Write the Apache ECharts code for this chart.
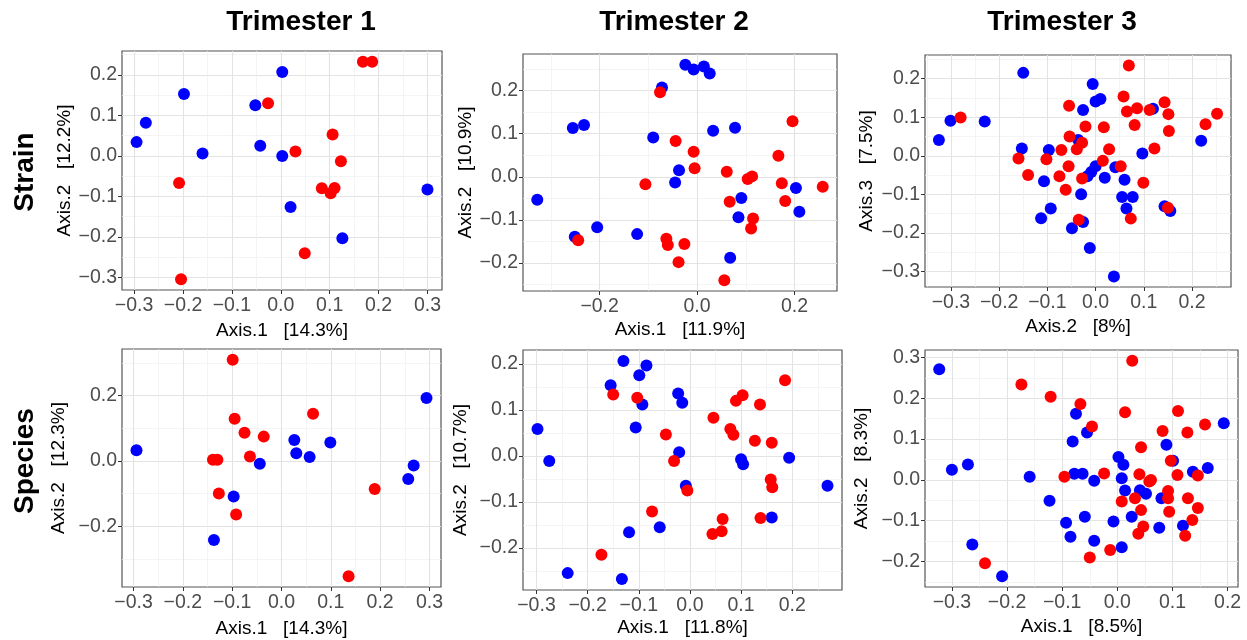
<!DOCTYPE html>
<html><head><meta charset="utf-8">
<script src="https://cdn.jsdelivr.net/npm/echarts@6/dist/echarts.min.js"></script>
<style>html,body{margin:0;padding:0;background:#fff}#c{width:1247px;height:640px}</style>
</head><body><div id="c"></div>
<script>
// ---------- text ----------
const trimesters = ['Trimester 1', 'Trimester 2', 'Trimester 3'];
const rowLabels = ['Strain', 'Species'];
const xNames = ['Axis.1   [14.3%]', 'Axis.1   [11.9%]', 'Axis.2   [8%]', 'Axis.1   [14.3%]', 'Axis.1   [11.8%]', 'Axis.1   [8.5%]'];
const yNames = ['Axis.2   [12.2%]', 'Axis.2   [10.9%]', 'Axis.3   [7.5%]', 'Axis.2   [12.3%]', 'Axis.2   [10.7%]', 'Axis.2   [8.3%]'];

// ---------- tick labels ----------
const t1StrainXTicks = [-0.3, -0.2, -0.1, 0, 0.1, 0.2, 0.3];
const t1StrainYTicks = [-0.3, -0.2, -0.1, 0, 0.1, 0.2];
const t2StrainXTicks = [-0.2, 0, 0.2];
const t2StrainYTicks = [-0.2, -0.1, 0, 0.1, 0.2];
const t3StrainXTicks = [-0.3, -0.2, -0.1, 0, 0.1, 0.2];
const t3StrainYTicks = [-0.3, -0.2, -0.1, 0, 0.1, 0.2];
const t1SpeciesXTicks = [-0.3, -0.2, -0.1, 0, 0.1, 0.2, 0.3];
const t1SpeciesYTicks = [-0.2, 0, 0.2];
const t2SpeciesXTicks = [-0.3, -0.2, -0.1, 0, 0.1, 0.2];
const t2SpeciesYTicks = [-0.2, -0.1, 0, 0.1, 0.2];
const t3SpeciesXTicks = [-0.3, -0.2, -0.1, 0, 0.1, 0.2];
const t3SpeciesYTicks = [-0.2, -0.1, 0, 0.1, 0.2, 0.3];

// ---------- data: [x, y] ----------
const t1StrainBlue = [[-0.295,0.034],[-0.276,0.082],[-0.198,0.153],[-0.160,0.006],[-0.052,0.125],[-0.042,0.025],[0.003,0.207],[0.003,0.0],[0.020,-0.126],[0.126,-0.203],[0.300,-0.083]];
const t1StrainRed = [[0.168,0.232],[0.187,0.232],[-0.026,0.130],[0.106,0.053],[0.030,0.011],[0.123,-0.013],[-0.208,-0.067],[0.084,-0.080],[0.102,-0.092],[0.110,-0.079],[0.049,-0.240],[-0.204,-0.304]];

const t2StrainBlue = [[-0.328,-0.053],[-0.255,0.113],[-0.232,0.120],[-0.251,-0.139],[-0.205,-0.117],[-0.123,-0.133],[-0.090,0.091],[-0.072,0.207],[-0.024,0.260],[-0.007,0.249],[0.014,0.256],[0.026,0.240],[-0.037,0.015],[-0.045,-0.013],[0.033,0.107],[0.078,0.114],[0.091,-0.049],[0.085,-0.094],[0.068,-0.188],[0.203,-0.026],[0.210,-0.081]];
const t2StrainRed = [[-0.076,0.196],[-0.244,-0.147],[-0.106,-0.017],[-0.044,0.083],[-0.007,0.058],[-0.005,0.020],[-0.063,-0.144],[-0.060,-0.158],[-0.026,-0.156],[-0.038,-0.198],[0.056,-0.240],[0.061,0.012],[0.067,-0.058],[0.104,-0.005],[0.113,0.001],[0.115,-0.097],[0.111,-0.120],[0.167,0.049],[0.174,-0.015],[0.181,-0.056],[0.196,0.129],[0.258,-0.023]];

const t3StrainBlue = [[-0.325,0.041],[-0.301,0.091],[-0.230,0.089],[-0.150,0.215],[-0.153,0.019],[-0.097,0.015],[-0.107,-0.066],[-0.113,-0.162],[-0.093,-0.137],[-0.049,-0.188],[-0.036,0.041],[-0.026,0.119],[-0.006,0.186],[0.0,0.141],[0.010,0.147],[-0.030,-0.100],[-0.026,-0.172],[-0.012,-0.239],[0.038,-0.313],[-0.009,-0.042],[0.0,-0.027],[-0.017,-0.053],[0.019,-0.057],[0.041,-0.030],[0.060,-0.062],[0.055,-0.107],[0.077,-0.107],[0.064,-0.137],[0.097,0.006],[0.119,0.122],[0.143,-0.131],[0.155,-0.143],[0.219,0.039]];
const t3StrainRed = [[-0.280,0.099],[0.069,0.234],[-0.055,0.130],[0.058,0.154],[0.065,0.115],[0.086,0.123],[0.112,0.119],[0.143,0.139],[0.151,0.108],[0.152,0.064],[0.081,0.080],[-0.021,0.076],[0.017,0.074],[0.228,0.082],[0.252,0.109],[-0.054,0.050],[-0.028,0.034],[-0.039,0.017],[-0.071,0.015],[-0.102,-0.009],[-0.160,-0.007],[-0.140,-0.050],[-0.056,-0.027],[-0.075,-0.053],[-0.062,-0.088],[-0.028,-0.059],[0.015,-0.013],[0.028,0.017],[0.052,-0.027],[0.122,0.019],[0.099,-0.070],[0.073,-0.163],[-0.035,-0.166],[0.150,-0.135]];

const t1SpeciesBlue = [[-0.294,0.032],[-0.137,-0.242],[-0.097,-0.109],[-0.044,-0.009],[0.026,0.064],[0.030,0.023],[0.057,0.012],[0.099,0.056],[0.257,-0.056],[0.268,-0.014],[0.294,0.192]];
const t1SpeciesRed = [[-0.099,0.309],[-0.095,0.129],[-0.075,0.086],[-0.036,0.074],[-0.064,0.013],[-0.139,0.003],[-0.130,0.003],[-0.127,-0.100],[-0.092,-0.164],[0.064,0.144],[0.189,-0.086],[0.136,-0.353]];

const t2SpeciesBlue = [[-0.298,0.059],[-0.275,-0.011],[-0.239,-0.255],[-0.155,0.154],[-0.130,0.207],[-0.133,-0.268],[-0.119,-0.166],[-0.106,0.062],[-0.099,0.176],[-0.093,0.112],[-0.085,0.197],[-0.059,-0.155],[-0.023,0.136],[-0.015,0.116],[-0.021,0.008],[-0.008,-0.065],[0.100,-0.007],[0.104,-0.018],[0.160,-0.134],[0.194,-0.004],[0.269,-0.065]];
const t2SpeciesRed = [[-0.150,0.134],[-0.103,0.127],[-0.047,0.047],[-0.031,-0.011],[-0.005,-0.075],[-0.074,-0.121],[-0.173,-0.215],[0.046,0.083],[0.079,0.059],[0.085,0.046],[0.090,0.120],[0.103,0.132],[0.137,0.112],[0.127,0.033],[0.160,0.029],[0.158,-0.051],[0.161,-0.068],[0.186,0.165],[0.064,-0.137],[0.044,-0.170],[0.062,-0.164],[0.138,-0.135]];

const t3SpeciesBlue = [[-0.323,0.271],[-0.300,0.025],[-0.271,0.038],[-0.263,-0.158],[-0.209,-0.236],[-0.159,0.008],[-0.123,-0.051],[-0.093,-0.105],[-0.085,-0.139],[-0.081,0.094],[-0.075,0.162],[-0.078,0.015],[-0.063,0.015],[-0.055,0.116],[-0.059,-0.090],[-0.042,-0.002],[-0.042,-0.149],[-0.007,-0.102],[0.002,0.056],[0.011,0.037],[0.008,0.004],[0.014,-0.026],[0.008,-0.165],[0.026,-0.090],[0.041,-0.025],[0.052,-0.034],[0.080,-0.045],[0.076,-0.117],[0.089,0.086],[0.101,0.047],[0.119,-0.112],[0.137,0.020],[0.164,0.029],[0.193,0.139]];
const t3SpeciesRed = [[0.027,0.292],[-0.174,0.234],[-0.121,0.204],[-0.067,0.186],[-0.046,0.131],[0.014,0.166],[-0.240,-0.204],[-0.096,0.008],[-0.024,0.016],[-0.050,-0.190],[-0.013,-0.172],[0.008,-0.053],[0.032,-0.045],[0.040,0.014],[0.043,0.080],[0.043,-0.074],[0.047,-0.114],[0.038,-0.132],[0.058,-0.004],[0.061,0.0],[0.082,0.120],[0.097,0.047],[0.092,-0.027],[0.092,-0.045],[0.094,-0.078],[0.109,0.012],[0.110,0.169],[0.127,0.116],[0.128,-0.045],[0.146,0.011],[0.146,-0.069],[0.136,-0.098],[0.123,-0.137],[0.159,0.136]];

// ---------- panels ----------
const panels = [
  {blue: t1StrainBlue, red: t1StrainRed, xt: t1StrainXTicks, yt: t1StrainYTicks},
  {blue: t2StrainBlue, red: t2StrainRed, xt: t2StrainXTicks, yt: t2StrainYTicks},
  {blue: t3StrainBlue, red: t3StrainRed, xt: t3StrainXTicks, yt: t3StrainYTicks},
  {blue: t1SpeciesBlue, red: t1SpeciesRed, xt: t1SpeciesXTicks, yt: t1SpeciesYTicks},
  {blue: t2SpeciesBlue, red: t2SpeciesRed, xt: t2SpeciesXTicks, yt: t2SpeciesYTicks},
  {blue: t3SpeciesBlue, red: t3SpeciesRed, xt: t3SpeciesXTicks, yt: t3SpeciesYTicks}
];
const boxes = [
  {left: 122, top: 51, width: 320, height: 239},
  {left: 523, top: 54, width: 314, height: 237},
  {left: 925, top: 55, width: 306, height: 232},
  {left: 122, top: 349, width: 319, height: 238},
  {left: 523, top: 350, width: 319, height: 240},
  {left: 925, top: 350, width: 313, height: 237}
];
const xGaps = [31, 29, 30, 32, 28, 30];
const yGaps = [48, 48, 49, 54, 53, 54];

const FONT = 'Liberation Sans, Arial, Helvetica, sans-serif';
const fmt = v => (v < -1e-9 ? '\u2212' : '') + Math.abs(v).toFixed(1);

function expand(vals) { // ggplot default 5% expansion
  const mn = Math.min(...vals), mx = Math.max(...vals), r = mx - mn;
  return [mn - 0.05 * r, mx + 0.05 * r];
}

function axisCfg(i, dim, ticks, name, range, gap) {
  const step = +(ticks[1] - ticks[0]).toFixed(4);
  return {
    type: 'value', gridIndex: i, min: range[0], max: range[1],
    minInterval: step, maxInterval: step,
    name: name, nameLocation: 'middle', nameGap: gap,
    nameTextStyle: {color: '#000', fontSize: 19, fontFamily: FONT},
    axisLine: {show: false, onZero: false},
    axisTick: {show: true, inside: false, length: 4, customValues: ticks, lineStyle: {color: '#333', width: 1}},
    axisLabel: {customValues: ticks, formatter: fmt, color: '#4D4D4D', fontSize: 19.5, fontFamily: FONT, margin: dim === 'x' ? 6 : 5},
    splitLine: {show: true, lineStyle: {color: '#E3E3E3', width: 1.1}},
    minorTick: {show: false, splitNumber: 2},
    minorSplitLine: {show: true, lineStyle: {color: '#EFEFEF', width: 0.7}}
  };
}

const grid = [], xAxis = [], yAxis = [], series = [];
panels.forEach((p, i) => {
  const all = p.blue.concat(p.red);
  const xr = expand(all.map(d => d[0]));
  const yr = expand(all.map(d => d[1]));
  grid.push(Object.assign({show: true, borderColor: '#555', borderWidth: 1.2, backgroundColor: 'transparent', containLabel: false}, boxes[i]));
  xAxis.push(axisCfg(i, 'x', p.xt, xNames[i], xr, xGaps[i]));
  yAxis.push(axisCfg(i, 'y', p.yt, yNames[i], yr, yGaps[i]));
  series.push({type: 'scatter', xAxisIndex: i, yAxisIndex: i, data: p.blue, symbolSize: 12, itemStyle: {color: '#0000FF', opacity: 1}, z: 2});
  series.push({type: 'scatter', xAxisIndex: i, yAxisIndex: i, data: p.red, symbolSize: 12, itemStyle: {color: '#FF0000', opacity: 1}, z: 2});
});

const titleX = [301, 674, 1062];
const graphic = trimesters.map((t, k) => ({
  type: 'text', x: titleX[k], y: 22,
  style: {text: t, font: 'bold 28px ' + FONT, fill: '#000', align: 'center', verticalAlign: 'middle'}
}));
const rowY = [172, 461];
rowLabels.forEach((t, k) => graphic.push({
  type: 'text', x: 25, y: rowY[k], rotation: Math.PI / 2,
  style: {text: t, font: 'bold 28px ' + FONT, fill: '#000', align: 'center', verticalAlign: 'middle'}
}));

const chart = echarts.init(document.getElementById('c'), null, {renderer: 'canvas'});
chart.setOption({
  animation: false,
  backgroundColor: '#fff',
  grid: grid, xAxis: xAxis, yAxis: yAxis, series: series, graphic: graphic
});
</script>
</body></html>
